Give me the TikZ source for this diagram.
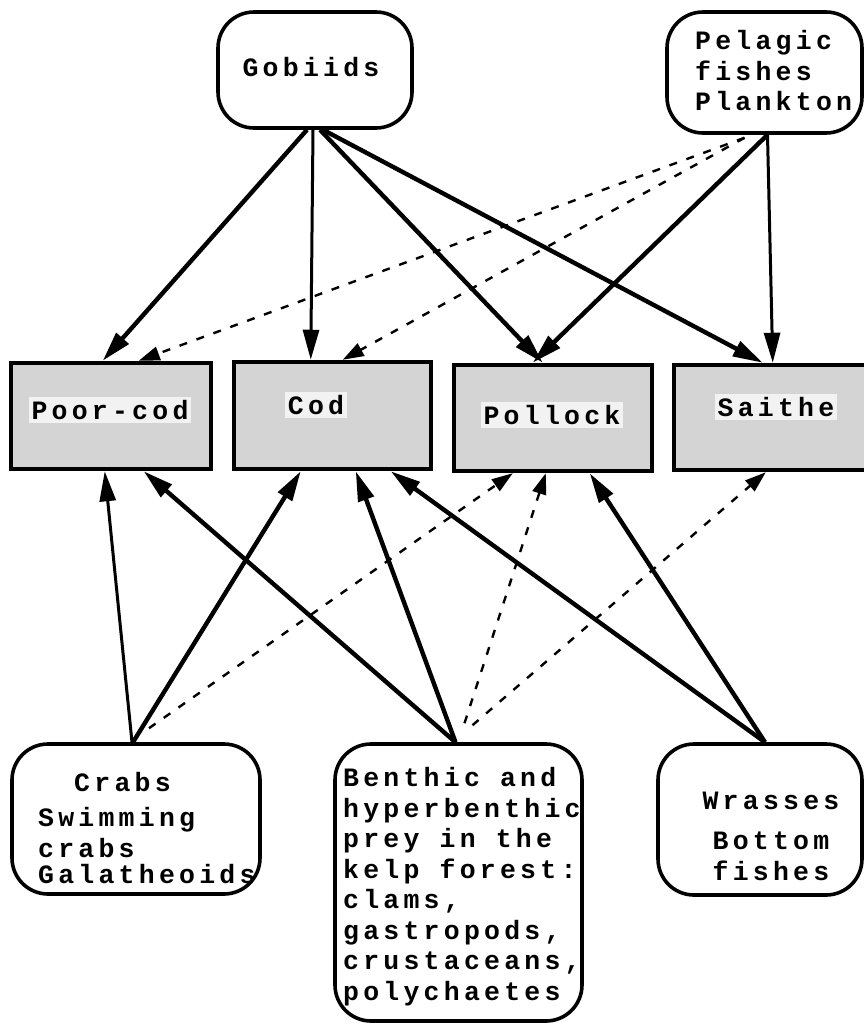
\documentclass[tikz,border=0pt]{standalone}
\usepackage{fontspec}
\usetikzlibrary{arrows.meta,calc}
\newfontfamily\diagfont[LetterSpace=16]{Liberation Mono}
\begin{document}
\begin{tikzpicture}[x=1pt,y=-1pt,
  lbl/.style={font=\diagfont\bfseries\fontsize{26.5}{30.5}\selectfont, inner sep=0pt},
  rbox/.style={draw, line width=3.6pt, rounded corners=36pt, inner sep=0pt},
  fbox/.style={draw, line width=4.5pt, fill=black!17, inner sep=0pt},
  ftext/.style={lbl, fill=black!5, inner sep=3pt},
  sol/.style={line width=4.4pt, -{Triangle[length=30pt,width=16pt]}},
  solthin/.style={line width=3pt, -{Triangle[length=30pt,width=16pt]}},
  dsh/.style={line width=2.4pt, dash pattern=on 8pt off 10pt, -{Triangle[length=21pt,width=14pt]}}
]
\useasboundingbox (0,0) rectangle (863,1023);
\fill[white] (0,0) rectangle (863,1023);

% top nodes
\node[rbox, minimum width=194, minimum height=116] (gob) at (315,70) {};
\node[lbl] (gobt) at (311,67) {Gobiids};
\node[rbox, minimum width=195, minimum height=121] (pel) at (764.5,72.5) {};
\node[lbl, anchor=west, align=left] (pelt) at (695,71) {Pelagic\\fishes\\Plankton};

% middle boxes
\node[fbox, minimum width=200, minimum height=106] (pc) at (111,416) {};
\node[ftext] (pct) at (110,410) {Poor-cod};
\node[fbox, minimum width=197, minimum height=107] (cod) at (332.5,415.5) {};
\node[ftext] (codt) at (316,405) {Cod};
\node[fbox, minimum width=198, minimum height=106] (pol) at (553,418) {};
\node[ftext] (polt) at (552,415) {Pollock};
\node[fbox, minimum width=196, minimum height=105] (sai) at (772,417.5) {};
\node[ftext] (sait) at (776,407) {Saithe};

% bottom nodes
\node[rbox, minimum width=248, minimum height=150] (crab) at (136,819) {};
\node[lbl, anchor=west, align=left] (crabt) at (38,828) {\phantom{xx}Crabs\\[5pt]Swimming\\crabs\\[-4pt]Galatheoids};
\node[rbox, minimum width=247, minimum height=277] (ben) at (458.5,882.5) {};
\node[lbl, anchor=west, align=left] (bent) at (343,886.5) {Benthic and\\hyperbenthic\\prey in the\\kelp forest:\\clams,\\gastropods,\\crustaceans,\\polychaetes};
\node[rbox, minimum width=204, minimum height=151] (wra) at (760,819.5) {};
\node[lbl, align=center] (wrat) at (771,836) {Wrasses\\[10pt]Bottom\\fishes};

% arrows from top
\draw[sol] ($(gob.south)+(-8,0)$) -- ([xshift=94pt]pc.north west);
\draw[solthin] ($(gob.south)+(-2,0)$) -- ([xshift=79pt]cod.north west);
\draw[sol] ($(gob.south)+(5,0)$) -- ([xshift=91pt]pol.north west);
\draw[sol] ($(gob.south)+(8,0)$) -- ([xshift=91pt]sai.north west);
\draw[sol] ($(pel.south)+(3,0)$) -- ([xshift=81pt]pol.north west);
\draw[solthin] ($(pel.south)+(3,0)$) -- ([xshift=101pt]sai.north west);
\draw[dsh] ($(pel.south)+(-20,3)$) -- ([xshift=130pt]pc.north west);
\draw[dsh] ($(pel.south)+(-20,3)$) -- ([xshift=111pt]cod.north west);

% arrows from bottom
\draw[solthin] ($(crab.north)+(-4,0)$) -- ([xshift=96pt]pc.south west);
\draw[sol] ($(crab.north)+(-3,0)$) -- ([xshift=69pt]cod.south west);
\draw[dsh] ($(crab.north)+(13,-14)$) -- ([xshift=61pt]pol.south west);
\draw[sol] ($(ben.north)+(-3,0)$) -- ([xshift=135pt]pc.south west);
\draw[sol] ($(ben.north)+(-3,0)$) -- ([xshift=124pt]cod.south west);
\draw[dsh] ($(ben.north)+(6,-19)$) -- ([xshift=94pt]pol.south west);
\draw[dsh] ($(ben.north)+(14,-17)$) -- ([xshift=94pt]sai.south west);
\draw[sol] ($(wra.north)+(5,0)$) -- ([xshift=159pt]cod.south west);
\draw[sol] ($(wra.north)+(5,0)$) -- ([xshift=138pt]pol.south west);
\end{tikzpicture}
\end{document}
